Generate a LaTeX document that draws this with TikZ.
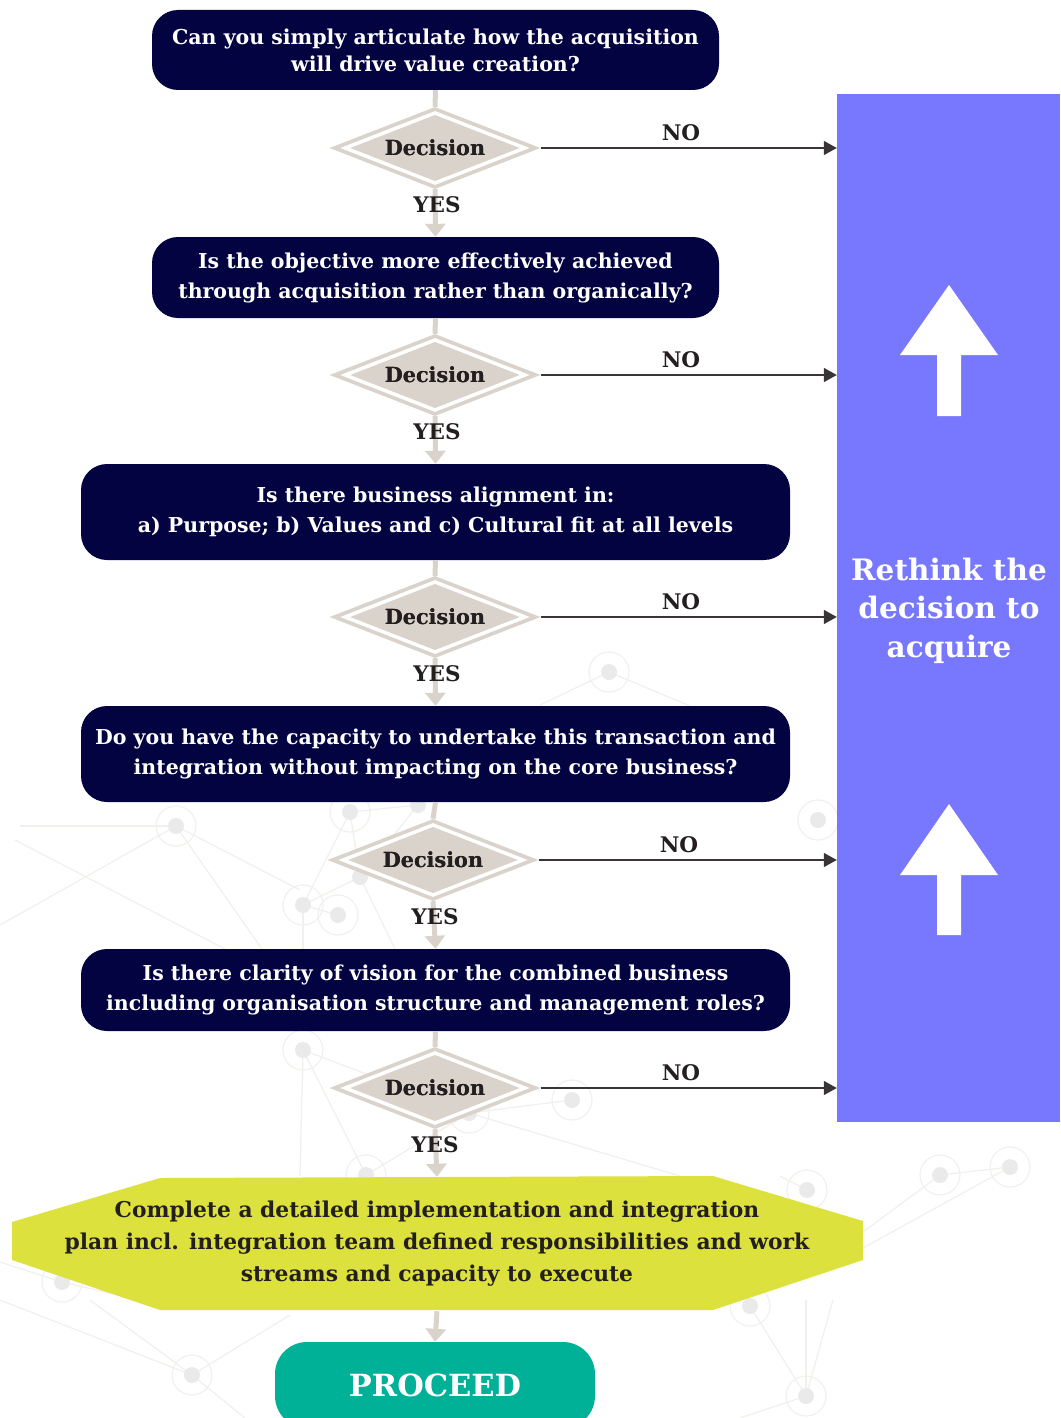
\documentclass[tikz,border=0pt]{standalone}
\usepackage{fontspec}
\setmainfont{DejaVu Serif}
\usetikzlibrary{shapes.geometric,arrows.meta,calc}
\definecolor{navy}{HTML}{020340}
\definecolor{stone}{HTML}{DAD3CB}
\definecolor{violetpanel}{HTML}{7878FF}
\definecolor{lime}{HTML}{DCE13D}
\definecolor{teal}{HTML}{00B097}
\definecolor{ink}{HTML}{231F20}
\definecolor{netline}{HTML}{F2F0ED}
\definecolor{netdot}{HTML}{EAEAEA}
\definecolor{netring}{HTML}{F2F0EE}
\begin{document}
\begin{tikzpicture}[x=1pt,y=-1pt,
  question/.style={rectangle, rounded corners=26pt, fill=navy, text=white,
    align=center, inner sep=0pt, font=\bfseries\fontsize{20.5}{30}\selectfont},
  decision/.style={diamond, fill=stone, inner sep=0pt, aspect=2.56,
    minimum width=211pt, minimum height=82pt, text=ink,
    font=\bfseries\fontsize{20.8}{22}\selectfont},
  tag/.style={text=ink, inner sep=0pt, font=\bfseries\fontsize{21.5}{22}\selectfont},
  link/.style={stone, line width=5pt},
  yesarrow/.style={stone, line width=5pt, -{Triangle[length=13pt,width=20pt]}},
  noarrow/.style={draw=ink!90, line width=1.5pt, -{Triangle[length=13pt,width=14pt]}},
]
\useasboundingbox (0,0) rectangle (1060,1418);
\clip (0,0) rectangle (1060,1418);

% faint network in the background
\begin{scope}[netline, line width=1.3pt]
  \draw (609,672) -- (540,705);
  \draw (609,672) -- (690,706);
  \draw (350,812) -- (418,805);
  \draw (350,812) -- (303,905);
  \draw (350,812) -- (360,877);
  \draw (303,905) -- (360,877) -- (418,805);
  \draw (303,905) -- (338,915);
  \draw (360,877) -- (395,949);
  \draw (303,905) -- (303,949);
  \draw (176,826) -- (20,826);
  \draw (176,826) -- (0,925);
  \draw (176,826) -- (262,949);
  \draw (176,826) -- (300,890);
  \draw (15,840) -- (225,949);
  \draw (303,1050) -- (469,1113);
  \draw (303,1050) -- (366,1175);
  \draw (303,1050) -- (300,1176);
  \draw (469,1113) -- (572,1100);
  \draw (469,1113) -- (680,1176);
  \draw (366,1175) -- (469,1113);
  \draw (940,1175) -- (1010,1167);
  \draw (940,1175) -- (863,1232);
  \draw (1010,1167) -- (863,1248);
  \draw (807,1190) -- (780,1176);
  \draw (750,1306) -- (806,1396);
  \draw (806,1396) -- (806,1300);
  \draw (806,1396) -- (833,1300);
  \draw (806,1396) -- (740,1418);
  \draw (192,1375) -- (0,1300);
  \draw (192,1375) -- (90,1300);
  \draw (192,1375) -- (290,1315);
  \draw (192,1375) -- (245,1418);
  \draw (62,1282) -- (0,1262);
  \draw (62,1282) -- (140,1300);
\end{scope}
\foreach \p in {(609,672),(818,820),(176,826),(350,812),(418,805),(360,877),
                (303,905),(338,915),(303,1050),(469,1113),(572,1100),(366,1175),
                (940,1175),(1010,1167),(807,1190),(750,1306),(806,1396),
                (192,1375),(62,1282)}
  \fill[netdot] \p circle[radius=8pt];
\foreach \p in {(609,672),(818,820),(176,826),(350,812),(303,905),(338,915),
                (303,1050),(469,1113),(572,1100),(366,1175),(940,1175),
                (1010,1167),(807,1190),(750,1306),(806,1396),(192,1375),(62,1282)}
  \draw[netring, line width=1.2pt] \p circle[radius=20pt];

% right-hand panel
\node[rectangle, fill=violetpanel, minimum width=223pt, minimum height=1028pt,
      inner sep=0pt] (panel) at (948.5,608) {};
\node[text=white, align=center, inner sep=0pt,
      font=\bfseries\fontsize{29.5}{38.5}\selectfont] (rethink) at (949,610.5)
  {Rethink the\\decision to\\acquire};
\fill[white] (949,285) -- (998,355) -- (961,355) -- (961,416) -- (937,416)
  -- (937,355) -- (900,355) -- cycle;
\fill[white] (949,804) -- (998,875) -- (961,875) -- (961,935) -- (937,935)
  -- (937,875) -- (900,875) -- cycle;

% final plan hexagon
\fill[lime] (12,1222) -- (160,1178) -- (713,1176) -- (863,1221) -- (863,1260)
  -- (713,1310) -- (160,1310) -- (12,1260) -- cycle;
\node[text=ink, align=center, inner sep=0pt, minimum width=851pt,
      minimum height=134pt, font=\bfseries\fontsize{21.8}{32}\selectfont]
  (plan) at (437,1244)
  {\raisebox{-2pt}{}Complete a detailed implementation and integration\\
   plan incl. integration team defined responsibilities and work\\
   streams and capacity to execute};

% questions
\node[question, minimum width=567pt, minimum height=80pt,
      font=\bfseries\fontsize{20.5}{27}\selectfont] (q1) at (435.5,50)
  {Can you simply articulate how the acquisition\\will drive value creation?};
\node[question, minimum width=567pt, minimum height=81pt] (q2) at (435.5,277.5)
  {Is the objective more effectively achieved\\through acquisition rather than organically?};
\node[question, minimum width=709pt, minimum height=96pt] (q3) at (435.5,512)
  {Is there business alignment in:\\a) Purpose; b) Values and c) Cultural fit at all levels};
\node[question, minimum width=709pt, minimum height=96pt] (q4) at (435.5,754)
  {Do you have the capacity to undertake this transaction and\\integration without impacting on the core business?};
\node[question, minimum width=709pt, minimum height=82pt] (q5) at (435.5,990)
  {Is there clarity of vision for the combined business\\including organisation structure and management roles?};

% proceed
\node[rectangle, rounded corners=32pt, fill=teal, text=white, inner sep=0pt,
      minimum width=320pt, minimum height=86pt,
      font=\bfseries\fontsize{30.5}{32}\selectfont] (go) at (435,1385) {PROCEED};

% decisions: stone rhombus with a white inner outline
\foreach \n/\x/\y in {d1/435/148, d2/435/375, d3/435/617, d4/433/860, d5/435/1088}{
  \node[decision] (\n) at (\x,\y) {Decision};
  \draw[white, line width=3.5pt, line join=miter]
    ($(\n.north)!0.15!(\n.center)$) -- ($(\n.east)!0.15!(\n.center)$)
    -- ($(\n.south)!0.15!(\n.center)$) -- ($(\n.west)!0.15!(\n.center)$) -- cycle;
  \node[decision, fill=none] at (\x,\y) {Decision};
}

% vertical flow
\draw[link] (q1.south) -- (d1.north);
\draw[link] (q2.south) -- (d2.north);
\draw[link] (q3.south) -- (d3.north);
\draw[link] (q4.south) -- (d4.north);
\draw[link] (q5.south) -- (d5.north);
\draw[yesarrow] (d1.south) -- (q2.north);
\draw[yesarrow] (d2.south) -- (q3.north);
\draw[yesarrow] (d3.south) -- (q4.north);
\draw[yesarrow] (d4.south) -- (q5.north);
\draw[yesarrow] (d5.south) -- (plan.north);
\draw[yesarrow] (plan.south) -- (go.north);

% exits to the panel
\foreach \n in {d1,d2,d3,d4,d5}
  \draw[noarrow] (\n.east) -- (\n.east -| panel.west);

% labels
\node[tag] (y1) at (437,205) {YES};
\node[tag] (y2) at (437,432) {YES};
\node[tag] (y3) at (437,674) {YES};
\node[tag] (y4) at (435,917) {YES};
\node[tag] (y5) at (435,1145) {YES};
\node[tag] (n1) at (681,133) {NO};
\node[tag] (n2) at (681,360) {NO};
\node[tag] (n3) at (681,602) {NO};
\node[tag] (n4) at (679,845) {NO};
\node[tag] (n5) at (681,1073) {NO};
\end{tikzpicture}
\end{document}
